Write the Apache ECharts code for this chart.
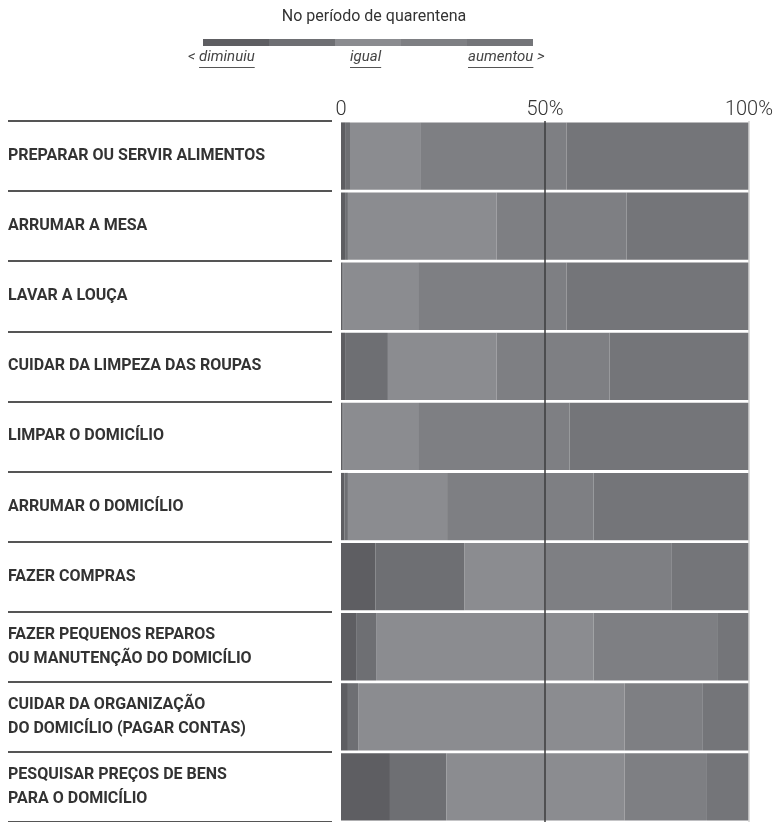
<!DOCTYPE html>
<html>
<head>
<meta charset="utf-8">
<script src="https://cdn.jsdelivr.net/npm/echarts@6/dist/echarts.min.js"></script>
<style>
html,body{margin:0;padding:0;background:#fff;}
#chart{width:776px;height:822px;}
</style>
</head>
<body>
<div id="chart"></div>
<script>
var categories = [
  'PREPARAR OU SERVIR ALIMENTOS',
  'ARRUMAR A MESA',
  'LAVAR A LOUÇA',
  'CUIDAR DA LIMPEZA DAS ROUPAS',
  'LIMPAR O DOMICÍLIO',
  'ARRUMAR O DOMICÍLIO',
  'FAZER COMPRAS',
  'FAZER PEQUENOS REPAROS\nOU MANUTENÇÃO DO DOMICÍLIO',
  'CUIDAR DA ORGANIZAÇÃO\nDO DOMICÍLIO (PAGAR CONTAS)',
  'PESQUISAR PREÇOS DE BENS\nPARA O DOMICÍLIO'
];
var seriesNames = ['Diminuiu muito', 'Diminuiu', 'Igual', 'Aumentou', 'Aumentou muito'];
var diminuiuMuito = [1.0, 1.0, 0.3, 1.0, 0.3, 0.8, 8.4, 3.7, 1.7, 12.0];
var diminuiu      = [1.2, 0.7, 0.2, 10.5, 0.2, 0.9, 21.8, 4.9, 2.5, 13.8];
var igual         = [17.2, 36.4, 18.4, 26.6, 18.4, 24.3, 19.9, 53.3, 65.3, 43.7];
var aumentou      = [35.9, 31.9, 36.4, 27.7, 37.1, 35.9, 31.0, 30.5, 19.2, 20.2];
var aumentouMuito = [44.7, 30.0, 44.7, 34.2, 44.0, 38.1, 18.9, 7.6, 11.3, 10.3];
var xTickLabels = {0: '0', 50: '50%', 100: '100%'};
var legendTitle = 'No período de quarentena';
var legendLabels = ['diminuiu', 'igual', 'aumentou'];
var colors = ['#5e5e62', '#6e6f73', '#8b8c90', '#7e7f83', '#747579'];

var values = [diminuiuMuito, diminuiu, igual, aumentou, aumentouMuito];

var chart = echarts.init(document.getElementById('chart'), null, {renderer: 'canvas'});

var series = values.map(function (arr, i) {
  var s = {
    name: seriesNames[i],
    type: 'bar',
    stack: 'total',
    xAxisIndex: 0,
    yAxisIndex: 0,
    barCategoryGap: '4%',
    data: arr,
    itemStyle: {color: colors[i]},
    silent: true
  };
  if (i === values.length - 1) {
    s.markLine = {
      silent: true,
      symbol: 'none',
      label: {show: false},
      z: 10,
      data: [
        {xAxis: 50, lineStyle: {color: '#3c3c3e', width: 1.5, type: 'solid'}},
        {xAxis: 100, lineStyle: {color: '#d0d0d0', width: 1.5, type: 'solid'}}
      ]
    };
  }
  return s;
});

// legend graphics
var lgLeft = 203, lgTop = 39, lgSegW = 66, lgH = 7;
var graphic = [];
graphic.push({
  type: 'text', x: 374, y: 9,
  style: {text: legendTitle, font: '400 16px Roboto', fill: '#333', textAlign: 'center'}
});
colors.forEach(function (c, i) {
  graphic.push({type: 'rect', shape: {x: lgLeft + i * lgSegW, y: lgTop, width: lgSegW, height: lgH}, style: {fill: c}, silent: true});
});
var lblFont = 'italic 400 15px Roboto';
var lblY = 50;
var lblDefs = [
  {pre: '< ', word: legendLabels[0], post: '', x: 188},
  {pre: '', word: legendLabels[1], post: '', x: 350},
  {pre: '', word: legendLabels[2], post: ' >', x: 468}
];
function textW(t, f) {
  var ctx = document.createElement('canvas').getContext('2d');
  ctx.font = f; return ctx.measureText(t).width;
}
lblDefs.forEach(function (d) {
  var full = d.pre + d.word + d.post;
  graphic.push({type: 'text', x: d.x, y: lblY, style: {text: full, font: lblFont, fill: '#444'}});
  var x0 = d.x + textW(d.pre, lblFont);
  var w = textW(d.word, lblFont);
  graphic.push({type: 'line', shape: {x1: x0, y1: lblY + 17.5, x2: x0 + w, y2: lblY + 17.5}, style: {stroke: '#555', lineWidth: 1}});
});

var option = {
  backgroundColor: '#fff',
  animation: false,
  textStyle: {fontFamily: 'Roboto'},
  grid: [
    {left: 341, width: 408, top: 121, height: 704, containLabel: false},
    {left: 8, width: 324, top: 121, height: 704, containLabel: false}
  ],
  xAxis: [
    {
      type: 'value', gridIndex: 0, position: 'top', min: 0, max: 100, interval: 50,
      axisLine: {show: false}, axisTick: {show: false}, splitLine: {show: false},
      axisLabel: {
        color: '#333', fontSize: 20, fontWeight: 300, margin: 1,
        formatter: function (v) { return xTickLabels[v] !== undefined ? xTickLabels[v] : ''; }
      }
    },
    {type: 'value', gridIndex: 1, show: false, min: 0, max: 1}
  ],
  yAxis: [
    {
      type: 'category', gridIndex: 0, inverse: true, data: categories,
      axisLine: {show: false}, axisTick: {show: false}, axisLabel: {show: false}, splitLine: {show: false}
    },
    {
      type: 'category', gridIndex: 1, inverse: true, data: categories,
      axisLine: {show: false}, axisTick: {show: false},
      splitLine: {show: true, interval: 0, lineStyle: {color: '#555', width: 2}},
      axisLabel: {
        inside: true, margin: 0, align: 'left', interval: 0,
        color: '#333', fontSize: 16, fontWeight: 'bold', fontFamily: 'Roboto', lineHeight: 24,
        padding: [9, 0, 0, 0]
      }
    }
  ],
  graphic: graphic,
  series: series
};
chart.setOption(option);
</script>
</body>
</html>
